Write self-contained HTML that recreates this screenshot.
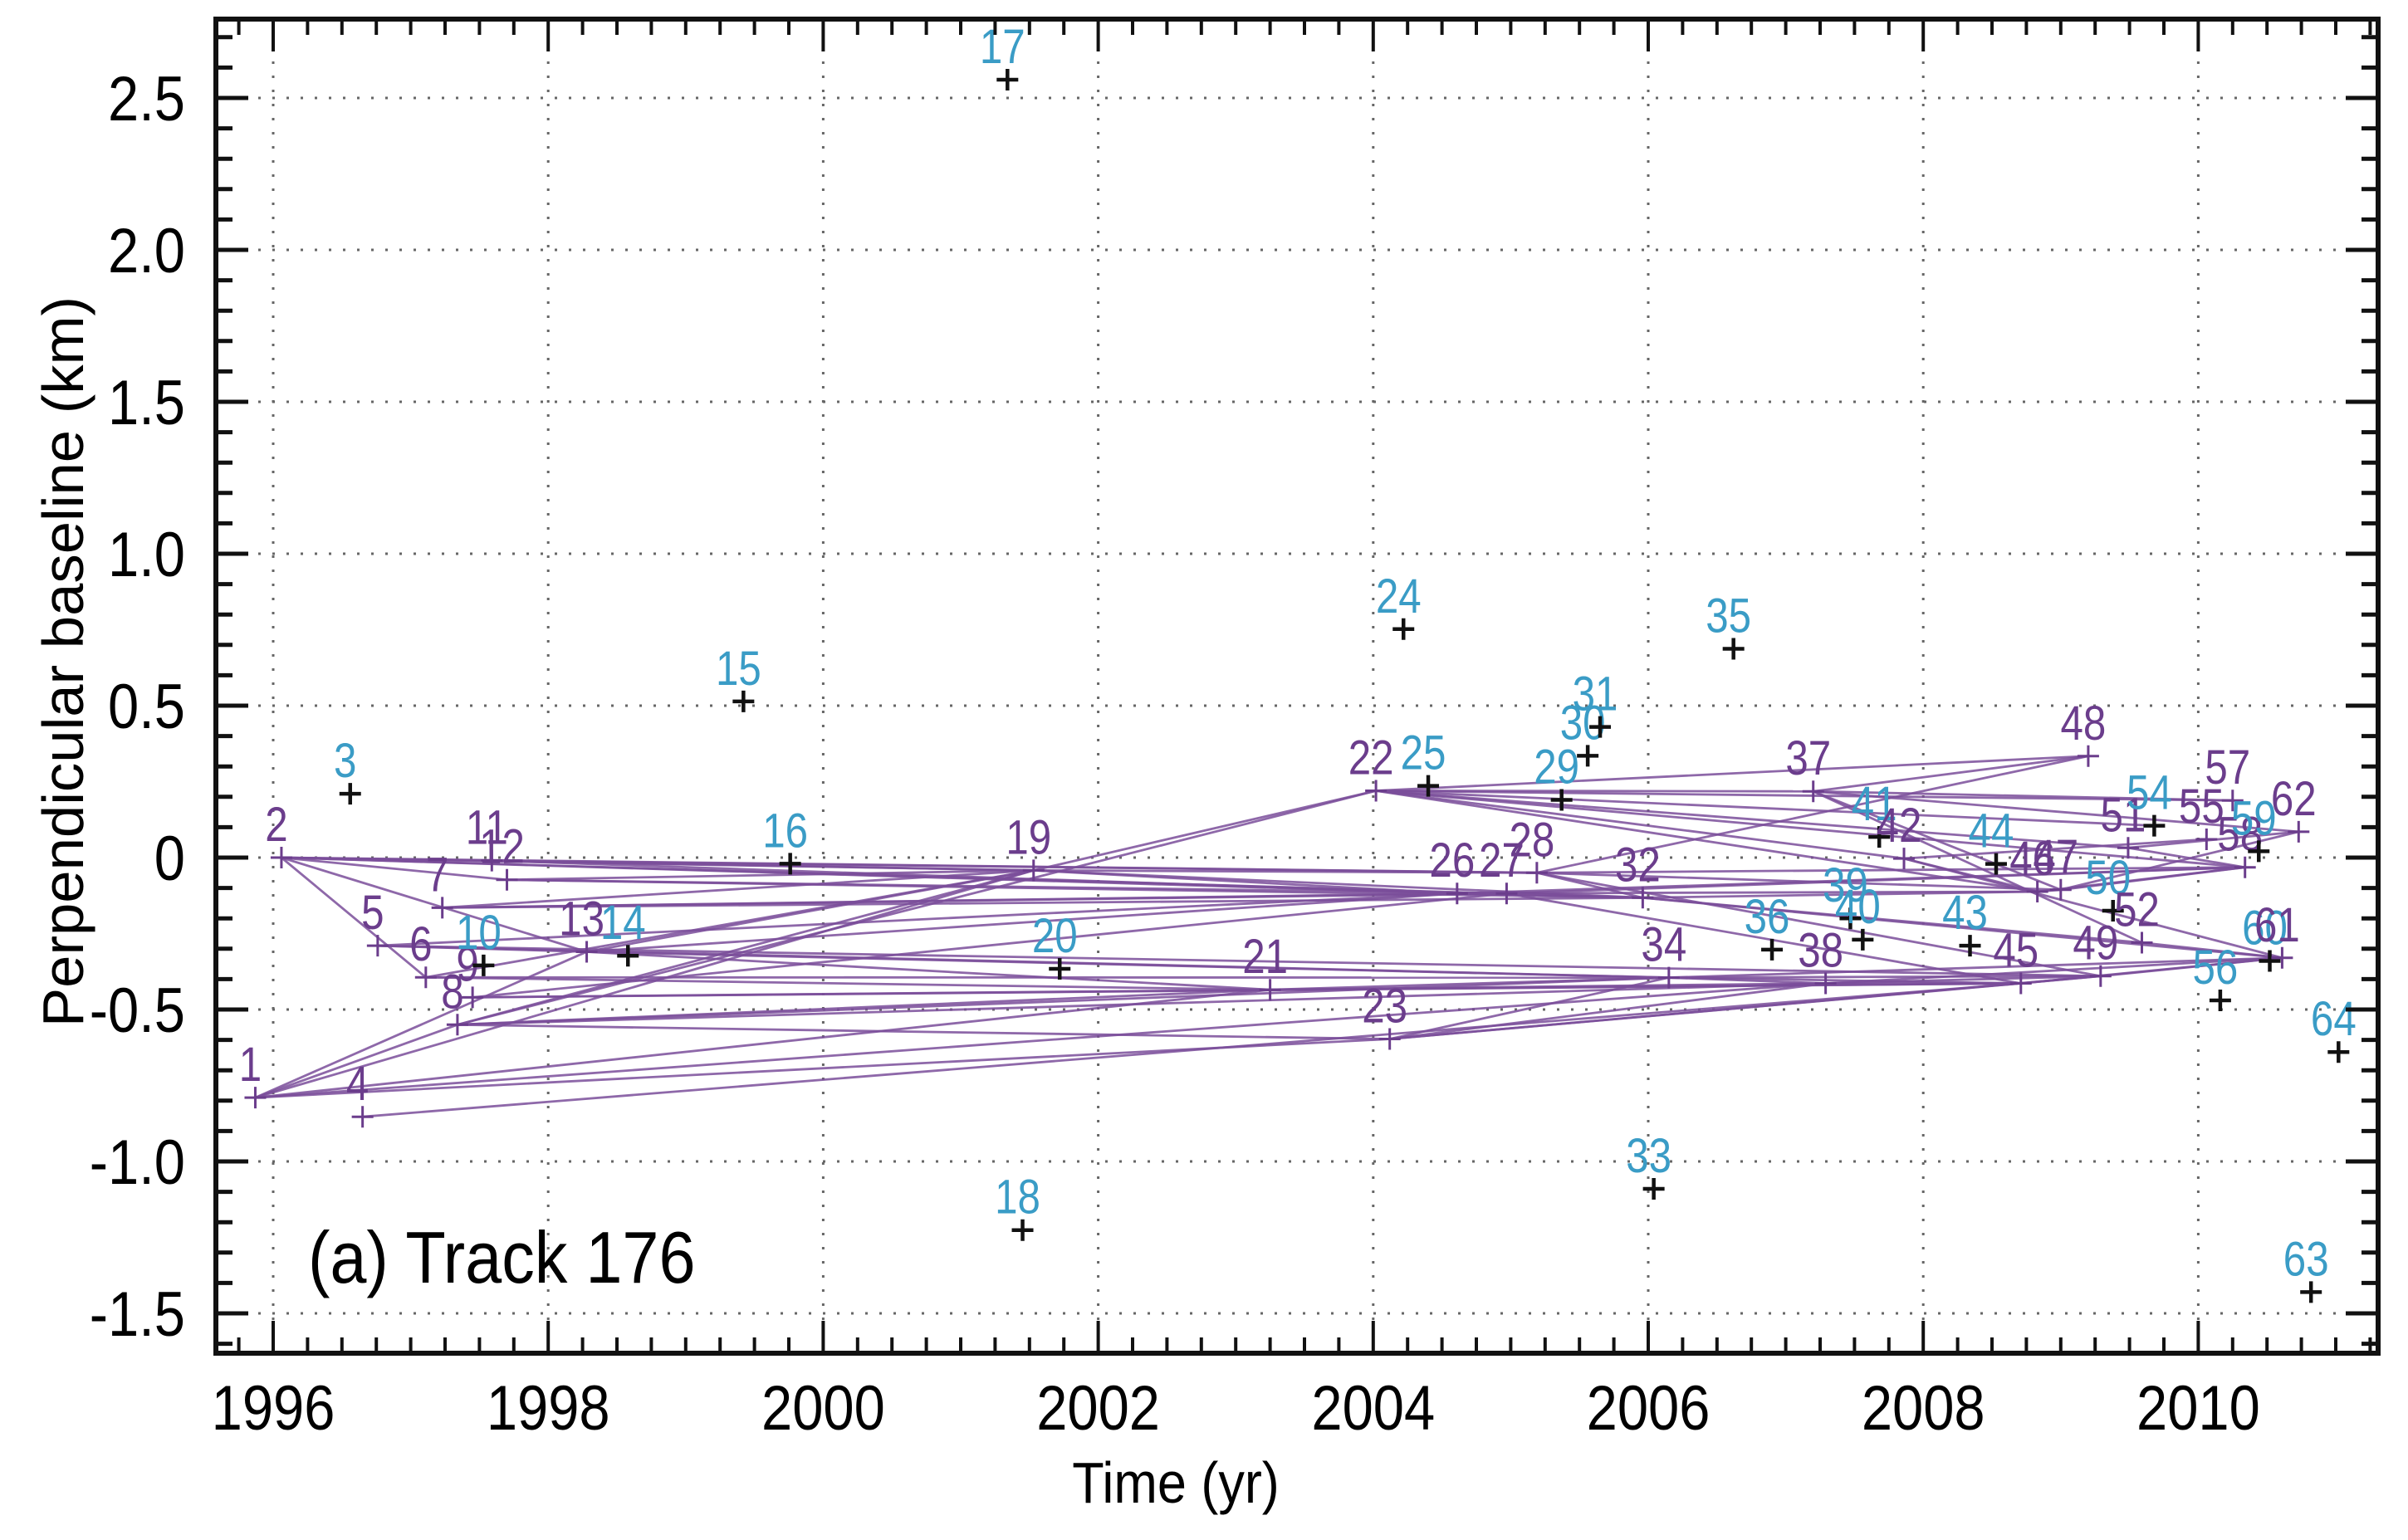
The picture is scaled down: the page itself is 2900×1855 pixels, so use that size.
<!DOCTYPE html>
<html><head><meta charset="utf-8">
<style>
html,body{margin:0;padding:0;background:#fff;}
svg{display:block;font-family:"Liberation Sans",Arial,sans-serif;}
</style></head>
<body>
<svg id="chart" width="2900" height="1855" viewBox="0 0 2900 1855" xmlns="http://www.w3.org/2000/svg">
<g id="grid"></g>
<g id="edges"></g>
<g id="marks"></g>
<g id="axes"></g>
<text transform="translate(371,1545) scale(0.9,1)" font-size="88" fill="#000">(a) Track 176</text>
<text transform="translate(1416,1810) scale(0.9,1)" font-size="70" text-anchor="middle" fill="#000">Time (yr)</text>
<text transform="translate(100,797) rotate(-90)" font-size="70" text-anchor="middle" textLength="880" lengthAdjust="spacingAndGlyphs" fill="#000">Perpendicular baseline (km)</text>
</svg>
<script>
// acquisition ids, dates (decimal year), perpendicular baselines (km), connected flag
const ids = [1,2,3,4,5,6,7,8,9,10,11,12,13,14,15,16,17,18,19,20,21,22,23,24,25,26,27,28,29,30,31,32,33,34,35,36,37,38,39,40,41,42,43,44,45,46,47,48,49,50,51,52,54,55,56,57,58,59,60,61,62,63,64];
const years = [1995.87,1996.06,1996.56,1996.65,1996.76,1997.11,1997.23,1997.34,1997.45,1997.53,1997.59,1997.70,1998.28,1998.58,1999.42,1999.76,2001.34,2001.45,2001.53,2001.72,2003.25,2004.02,2004.12,2004.22,2004.40,2004.61,2004.97,2005.19,2005.37,2005.56,2005.65,2005.96,2006.04,2006.15,2006.62,2006.90,2007.20,2007.29,2007.47,2007.56,2007.68,2007.86,2008.34,2008.53,2008.71,2008.83,2009.00,2009.20,2009.29,2009.38,2009.49,2009.59,2009.68,2010.06,2010.16,2010.25,2010.34,2010.44,2010.52,2010.61,2010.73,2010.82,2011.02];
const baselines = [-0.79,0.0,0.21,-0.853,-0.29,-0.394,-0.165,-0.55,-0.46,-0.355,-0.01,-0.073,-0.31,-0.323,0.514,-0.02,2.56,-1.226,-0.042,-0.366,-0.435,0.22,-0.597,0.752,0.236,-0.118,-0.118,-0.05,0.19,0.335,0.43,-0.132,-1.09,-0.395,0.687,-0.303,0.218,-0.414,-0.2,-0.27,0.068,-0.003,-0.29,-0.021,-0.414,-0.112,-0.106,0.334,-0.39,-0.175,0.032,-0.28,0.105,0.06,-0.47,0.188,-0.032,0.021,-0.34,-0.33,0.085,-1.43,-0.64];
const connected = [1,1,0,1,1,1,1,1,1,0,1,1,1,0,0,0,0,0,1,0,1,1,1,0,0,1,1,1,0,0,0,1,0,1,0,0,1,1,0,0,0,1,0,0,1,1,1,1,1,0,1,1,0,1,0,1,1,0,0,1,1,0,0];
// interferogram pairs (by acquisition id)
const pairFrom = [2,2,2,2,2,2,2,2,1,1,1,1,1,4,7,7,7,7,5,5,5,6,6,6,8,8,8,8,8,9,9,11,11,11,12,12,12,13,13,13,13,19,19,19,19,22,22,22,22,22,22,22,22,23,23,23,23,21,21,21,26,26,26,28,28,28,28,28,32,32,32,34,34,34,34,37,37,37,37,37,38,38,38,42,42,42,45,45,46,46,47,47,49,51,51,52,27,27,9,5,8,1];
const pairTo   = [6,13,19,11,12,26,28,32,8,13,19,38,21,45,26,19,27,32,26,34,13,21,34,19,19,21,34,38,22,21,27,19,26,28,27,32,19,19,26,34,21,26,28,32,22,37,48,42,57,51,58,46,54,34,38,45,49,34,38,45,32,46,58,32,48,47,58,49,46,52,61,38,45,49,61,48,57,62,47,52,45,49,61,46,55,61,49,61,47,58,58,62,61,58,62,61,45,58,45,49,23,23];
// axis ticks
const xTicks = [1996,1998,2000,2002,2004,2006,2008,2010];
const yTicks = [2.5,2.0,1.5,1.0,0.5,0,-0.5,-1.0,-1.5];
const yTickLabels = ["2.5","2.0","1.5","1.0","0.5","0","-0.5","-1.0","-1.5"];

const L=260,R=2864,T=23,B=1630;
const X0=1996,XS=165.6, Y0=1033, YS=366;
const sx=t=>329+(t-X0)*XS;
const sy=b=>Y0-b*YS;
const NS="http://www.w3.org/2000/svg";
function mk(tag,attrs,parent){const e=document.createElementNS(NS,tag);for(const k in attrs)e.setAttribute(k,attrs[k]);parent.appendChild(e);return e;}
const grid=document.getElementById('grid'),edges=document.getElementById('edges'),marks=document.getElementById('marks'),axes=document.getElementById('axes');

xTicks.forEach(t=>{const l=mk('line',{x1:sx(t),x2:sx(t),y1:T,y2:B,stroke:'#666','stroke-width':3,'stroke-dasharray':'3 14'},grid);

});
yTicks.forEach(v=>{const l=mk('line',{x1:L,x2:R,y1:sy(v),y2:sy(v),stroke:'#666','stroke-width':3,'stroke-dasharray':'3 14'},grid);

});

const idx={};ids.forEach((id,i)=>idx[id]=i);
pairFrom.forEach((a,k)=>{const i=idx[a],j=idx[pairTo[k]];if(i===undefined||j===undefined)return;
const l=mk('line',{x1:sx(years[i]),y1:sy(baselines[i]),x2:sx(years[j]),y2:sy(baselines[j]),stroke:'#7a4e9a','stroke-width':2.8,'stroke-opacity':0.85},edges);

});

ids.forEach((id,i)=>{const x=sx(years[i]),y=sy(baselines[i]);const c=connected[i];
const col=c?'#6b3d8c':'#111';const g=mk('g',{},marks);


mk('path',{d:`M${x-13} ${y}H${x+13}M${x} ${y-13}V${y+13}`,stroke:col,'stroke-width':c?3:4.5,fill:'none'},g);
const t=mk('text',{transform:`translate(${x-6},${y-20}) scale(0.85,1)`,'font-size':58,'text-anchor':'middle',fill:c?'#6b3d8c':'#3a9cc6'},g);t.textContent=id;});

// frame
const f=mk('rect',{x:L,y:T,width:R-L,height:B-T,fill:'none',stroke:'#111','stroke-width':6},axes);


for(let t=1995.75;t<=2011.5;t+=0.25){const x=sx(t);if(x<L||x>R)continue;const major=Math.abs(t/2-Math.round(t/2))<1e-6;const len=major?39:19;
mk('line',{x1:x,x2:x,y1:B,y2:B-len,stroke:'#111','stroke-width':4},axes);
mk('line',{x1:x,x2:x,y1:T,y2:T+len,stroke:'#111','stroke-width':4},axes);}
for(let k=-16;k<=27;k++){const v=k/10,y=sy(v);if(y<T||y>B)continue;const major=k%5===0;const len=major?39:20;
mk('line',{x1:L,x2:L+len,y1:y,y2:y,stroke:'#111','stroke-width':5},axes);
mk('line',{x1:R,x2:R-len,y1:y,y2:y,stroke:'#111','stroke-width':5},axes);}
xTicks.forEach(t=>{const e=mk('text',{transform:`translate(${sx(t)},1722) scale(0.88,1)`,'font-size':76,'text-anchor':'middle',fill:'#000'},axes);e.textContent=t;

});
yTicks.forEach((v,i)=>{const e=mk('text',{transform:`translate(223,${sy(v)+27}) scale(0.88,1)`,'font-size':76,'text-anchor':'end',fill:'#000'},axes);e.textContent=yTickLabels[i];

});
</script>
</body></html>
